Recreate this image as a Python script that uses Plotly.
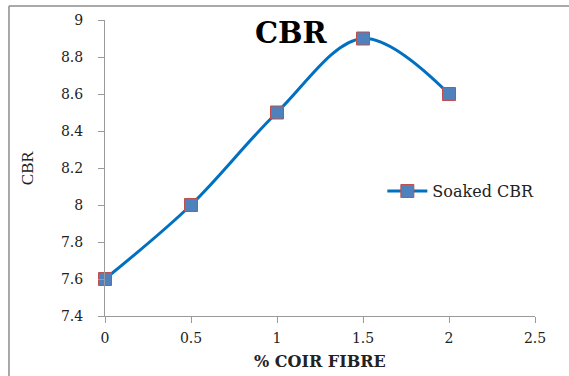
import plotly.graph_objects as go

fibre_pct = [0, 0.5, 1, 1.5, 2]
soaked_cbr = [7.6, 8.0, 8.5, 8.9, 8.6]
x_ticks = [0, 0.5, 1, 1.5, 2, 2.5]
y_ticks = [7.4, 7.6, 7.8, 8, 8.2, 8.4, 8.6, 8.8, 9]

fig = go.Figure()
fig.add_trace(go.Scatter(
    x=fibre_pct, y=soaked_cbr, mode="lines+markers", name="Soaked CBR",
    line=dict(color="#0070C0", width=3, shape="spline", smoothing=1.0),
    marker=dict(symbol="square", size=13, color="#4F81BD",
                line=dict(color="#C0504D", width=1)),
    cliponaxis=False,
))

axis_common = dict(showgrid=False, zeroline=False, showline=True,
                   linecolor="#9a9a9a", linewidth=1, ticks="outside",
                   ticklen=6, tickcolor="#9a9a9a",
                   tickfont=dict(family="DejaVu Serif", size=14, color="#222"))

fig.update_layout(
    width=569, height=376,
    margin=dict(l=105, r=34, t=20, b=60),
    paper_bgcolor="white", plot_bgcolor="white",
    showlegend=True,
    legend=dict(x=0.645, y=0.422, xanchor="left", yanchor="middle",
                font=dict(family="DejaVu Serif", size=16, color="#222"),
                bgcolor="rgba(0,0,0,0)", itemwidth=40),
    xaxis=dict(range=[0, 2.5], tickvals=x_ticks, ticklabelstandoff=3,
               ticktext=[str(v) for v in x_ticks], **axis_common),
    yaxis=dict(range=[7.4, 9], tickvals=y_ticks, ticklabelstandoff=12,
               ticktext=[str(v) for v in y_ticks], **axis_common),
    annotations=[
        dict(text="<b>CBR</b>", x=0.4326, y=0.956, xref="paper", yref="paper",
             showarrow=False, xanchor="center", yanchor="middle",
             font=dict(family="DejaVu Serif", size=29, color="black")),
        dict(text="<b>% COIR FIBRE</b>", x=0.5, y=-0.155, xref="paper", yref="paper",
             showarrow=False, xanchor="center", yanchor="middle",
             font=dict(family="DejaVu Serif", size=16, color="#222")),
        dict(text="CBR", x=-0.181, y=0.5, xref="paper", yref="paper",
             showarrow=False, textangle=-90, xanchor="center", yanchor="middle",
             font=dict(family="Liberation Serif", size=17, color="#222")),
    ],
    shapes=[
        dict(type="line", xref="paper", yref="paper", x0=-0.2233, x1=-0.2233,
             y0=1.0473, y1=-0.4, line=dict(color="#8c8c8c", width=1.5)),
        dict(type="line", xref="paper", yref="paper", x0=-0.2233, x1=1.2,
             y0=1.0473, y1=1.0473, line=dict(color="#8c8c8c", width=1.5)),
    ],
)

fig.write_html("out.html")
